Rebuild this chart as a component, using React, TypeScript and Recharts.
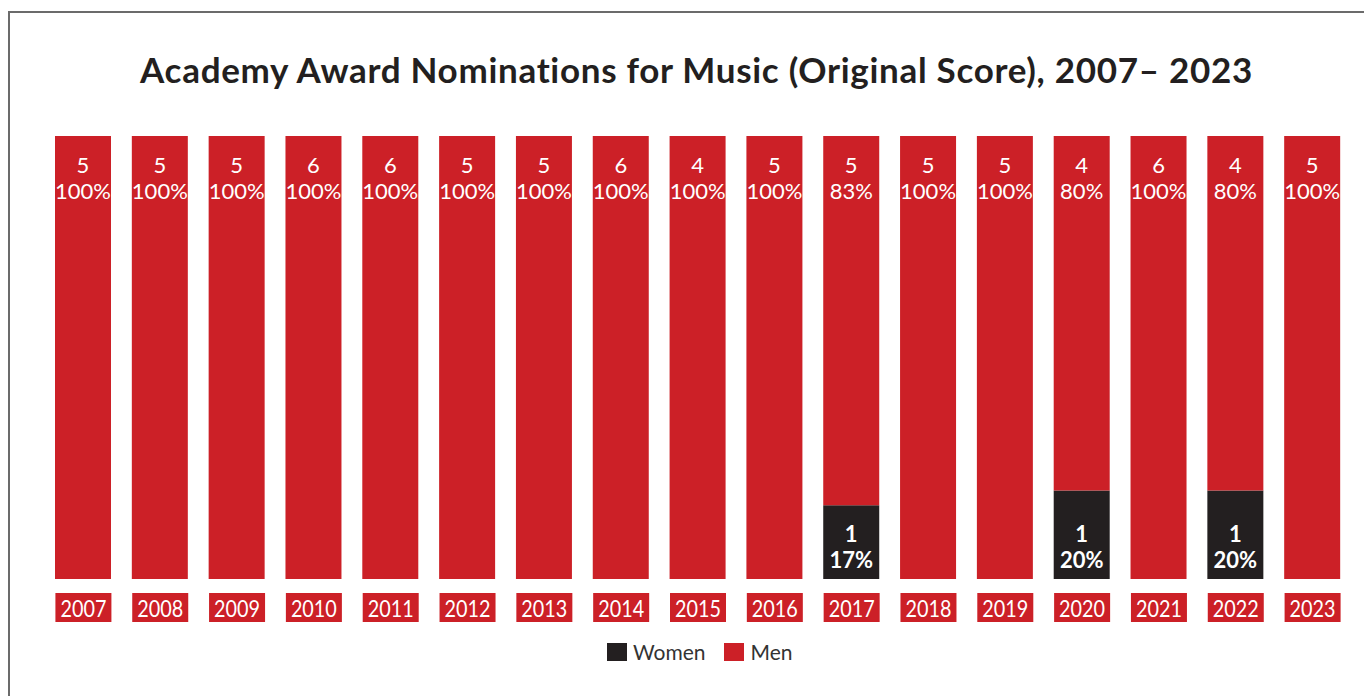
import { Bar, BarChart, LabelList, XAxis, YAxis } from "recharts";

const years = ["2007", "2008", "2009", "2010", "2011", "2012", "2013", "2014", "2015", "2016", "2017", "2018", "2019", "2020", "2021", "2022", "2023"];
const men = [5, 5, 5, 6, 6, 5, 5, 6, 4, 5, 5, 5, 5, 4, 6, 4, 5];
const women = [0, 0, 0, 0, 0, 0, 0, 0, 0, 0, 1, 0, 0, 1, 0, 1, 0];

const RED = "#CC2027";
const DARK = "#231F20";
const FONT = "Lato, 'Open Sans', sans-serif";

const pct = (v: number, i: number) => Math.round((v / (men[i] + women[i])) * 100);

const data = years.map((year, i) => ({
  year,
  women: women[i],
  men: men[i],
  womenPct: pct(women[i], i),
  menPct: pct(men[i], i),
}));

// label content factory: offset from bar top (or bottom), suffix, weight
function label(dy: number, fromBottom: boolean, suffix: string, weight: number) {
  return function BarText(props: any) {
    const { x, y, width, height, value } = props;
    if (value == null) return null;
    const top = Math.min(y, y + height);
    const bottom = Math.max(y, y + height);
    return (
      <text
        x={x + width / 2}
        y={fromBottom ? bottom - dy : top + dy}
        fill="#fff"
        fontFamily={FONT}
        fontSize={22}
        fontWeight={weight}
        textAnchor="middle"
      >
        {value}
        {suffix}
      </text>
    );
  };
}

const MenCount = label(37, false, "", 400);
const MenPct = label(63, false, "%", 400);
const WomenCount = label(37, true, "", 700);
const WomenPct = label(11, true, "%", 700);

function YearTick(props: any) {
  const { x, y, payload } = props;
  return (
    <g>
      <rect x={x - 28} y={y + 14} width={56} height={29} fill={RED} />
      <text
        x={x}
        y={y + 38}
        fill="#fff"
        fontFamily={FONT}
        fontSize={23}
        textAnchor="middle"
        textLength={46}
        lengthAdjust="spacingAndGlyphs"
      >
        {payload.value}
      </text>
    </g>
  );
}

export default function App() {
  return (
    <div style={{ position: "relative", width: 1364, height: 688, overflow: "hidden", background: "#fff" }}>
      <div
        style={{
          position: "absolute",
          left: 0,
          top: 3,
          width: 1420,
          height: 720,
          border: "2px solid #6b6b6b",
          boxSizing: "border-box",
        }}
      />
      <div
        style={{
          position: "absolute",
          left: 0,
          top: 41,
          width: 1377,
          textAlign: "center",
          fontFamily: FONT,
          fontWeight: 700,
          fontSize: 35,
          lineHeight: "40px",
          letterSpacing: 0.7,
          color: DARK,
          whiteSpace: "nowrap",
        }}
      >
        Academy Award Nominations for Music (Original Score), 2007– 2023
      </div>
      <div style={{ position: "absolute", left: 0, top: 0 }}>
        <BarChart
          width={1364}
          height={688}
          data={data}
          stackOffset="expand"
          barSize={56}
          margin={{ top: 128, right: 21, left: 37, bottom: 77 }}
        >
          <XAxis
            dataKey="year"
            height={40}
            axisLine={false}
            tickLine={false}
            tickSize={0}
            tickMargin={0}
            interval={0}
            tick={<YearTick />}
          />
          <YAxis hide domain={[0, 1]} />
          <Bar dataKey="women" stackId="a" fill={DARK} isAnimationActive={false}>
            <LabelList dataKey="women" content={<WomenCount />} />
            <LabelList dataKey="womenPct" content={<WomenPct />} />
          </Bar>
          <Bar dataKey="men" stackId="a" fill={RED} isAnimationActive={false}>
            <LabelList dataKey="men" content={<MenCount />} />
            <LabelList dataKey="menPct" content={<MenPct />} />
          </Bar>
        </BarChart>
      </div>
      <div
        style={{
          position: "absolute",
          left: 599,
          top: 631,
          display: "flex",
          alignItems: "center",
          fontFamily: FONT,
          fontSize: 21,
          color: "#333",
        }}
      >
        <span style={{ width: 20, height: 18, background: DARK, marginRight: 6 }} />
        <span style={{ marginRight: 18 }}>Women</span>
        <span style={{ width: 20, height: 18, background: RED, marginRight: 7 }} />
        <span>Men</span>
      </div>
    </div>
  );
}
